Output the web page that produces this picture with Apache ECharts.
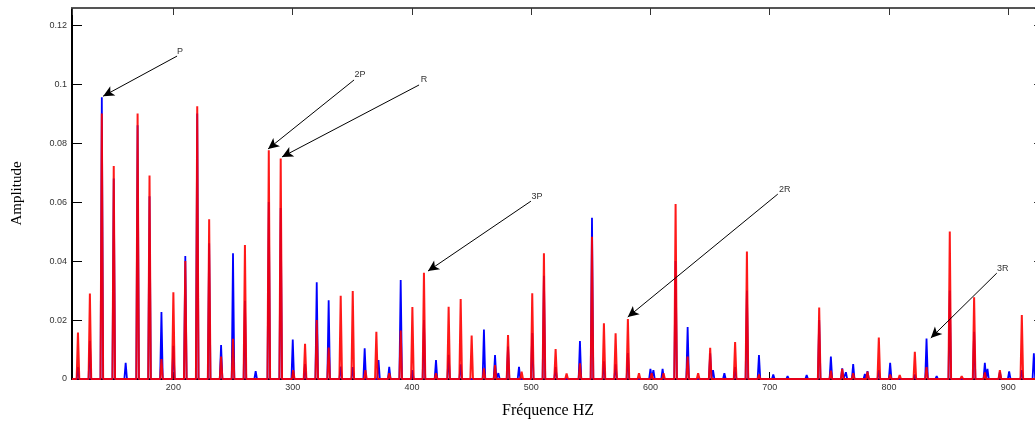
<!DOCTYPE html>
<html>
<head>
<meta charset="utf-8">
<script src="https://cdn.jsdelivr.net/npm/echarts@6/dist/echarts.min.js"></script>
<style>
html,body{margin:0;padding:0;background:#fff;}
#c{width:1035px;height:423px;}
</style>
</head>
<body>
<div id="c"></div>
<script>
// ---- data ----
const blueFreq = [120,130,140,150,160,170,180,190,200,210,220,230,240,250,260,269,280,290,300.1,310.4,320.2,330.2,340.3,350.4,360.4,372,381,390.6,400.4,410.1,420.2,430.8,440.9,460.4,469.7,472.5,480.6,489.8,500.9,510.7,520.5,540.9,551,561,570.8,581.1,600,602.5,610.2,621.1,631.2,650.1,652.5,662,671,680.9,691,703,715,731,741.5,751.3,760.8,763.9,770,779.8,782,791.5,801,821.7,831.5,840,851,871.4,880.4,882.6,893,900.8,911.4,921.5];
const blueAmp  = [0.004,0.013,0.0955,0.068,0.0055,0.086,0.062,0.0227,0.0113,0.0417,0.090,0.046,0.0115,0.0426,0.0265,0.0027,0.060,0.058,0.0134,0.0051,0.0328,0.0267,0.0042,0.004,0.0104,0.0064,0.0041,0.0336,0.003,0.020,0.0064,0.0082,0.005,0.0168,0.0081,0.002,0.011,0.0041,0.0156,0.035,0.004,0.0129,0.0547,0.006,0.005,0.0088,0.0034,0.003,0.0034,0.040,0.0176,0.0087,0.003,0.002,0.004,0.030,0.0081,0.0015,0.001,0.0013,0.020,0.0076,0.0036,0.0023,0.0051,0.0017,0.0027,0.003,0.0055,0.0015,0.0137,0.001,0.030,0.016,0.0055,0.0034,0.0024,0.0026,0.003,0.0087];

const redFreq = [120,130,140,150,170,180,190,200,210,220,230,240,250,260,280,290,300.5,310.4,320.2,330.2,340.3,350.4,361,370.2,381,390.6,400.4,410.1,420.2,430.8,440.9,450.1,460.4,469.7,480.6,492,500.9,510.7,520.5,529.7,540.9,551,561,570.8,581.1,590.4,601,611,621.1,631.2,640,650.1,671,680.9,691,741.5,751.3,760.8,770,782,791.5,801,809,821.7,831.5,851,861,871.4,880.4,893,911.4];
const redAmp  = [0.0158,0.029,0.090,0.0722,0.090,0.069,0.0068,0.0294,0.040,0.0925,0.0542,0.0076,0.0136,0.0454,0.0776,0.0748,0.003,0.0119,0.020,0.0107,0.0282,0.0298,0.003,0.016,0.002,0.0164,0.0244,0.036,0.002,0.0245,0.0271,0.0147,0.0036,0.0047,0.0149,0.0025,0.0291,0.0426,0.0102,0.0019,0.0053,0.0482,0.0189,0.0155,0.0203,0.002,0.002,0.002,0.0593,0.0076,0.002,0.0106,0.0125,0.0432,0.0015,0.0242,0.0028,0.0034,0.002,0.0025,0.0141,0.0015,0.0013,0.0092,0.004,0.050,0.001,0.0277,0.0022,0.003,0.0217];

const annLabels = ['P','2P','R','3P','2R','3R'];
const annText = [[205.6,0.1112],[356.4,0.1034],[410.2,0.1014],[504.9,0.0620],[712.7,0.0644],[895.5,0.0376]];
const annFrom = [[203.1,0.1095],[351.5,0.1014],[406.0,0.0997],[499.8,0.0603],[706.8,0.0627],[890.4,0.0359]];
const annTo   = [[141.1,0.0959],[279.4,0.0780],[291.1,0.0753],[413.5,0.0366],[581.0,0.0210],[835.1,0.0139]];

const xMin = 115, xMax = 930, yMin = 0, yMax = 0.1258;

// build spike line from peak lists
function spectrum(freqs, amps) {
  const hw = 1.1;
  const pts = [[xMin, 0]];
  for (let i = 0; i < freqs.length; i++) {
    pts.push([freqs[i] - hw, 0], [freqs[i], amps[i]], [freqs[i] + hw, 0]);
  }
  pts.push([xMax, 0]);
  return pts;
}

const chart = echarts.init(document.getElementById('c'), null, {renderer: 'canvas'});
const labelFont = {fontSize: 9, color: '#333', fontFamily: 'Liberation Sans, Arial, sans-serif'};

const option = {
  animation: false,
  backgroundColor: '#fff',
  grid: {left: 72, top: 8, right: -9, bottom: 44, containLabel: false, outerBoundsMode: 'none'},
  xAxis: [
    {type: 'value', min: xMin, max: xMax, splitNumber: 8, position: 'bottom',
     axisLine: {show: true, onZero: false, lineStyle: {color: '#000', width: 2}},
     axisTick: {show: true, inside: true, length: 7, lineStyle: {color: '#000'}},
     axisLabel: Object.assign({margin: 4, showMinLabel: false, showMaxLabel: false}, labelFont),
     splitLine: {show: false}},
    {type: 'value', min: xMin, max: xMax, splitNumber: 8, position: 'top',
     axisLine: {show: true, onZero: false, lineStyle: {color: '#555', width: 2}},
     axisTick: {show: true, inside: true, length: 7, lineStyle: {color: '#333'}},
     axisLabel: {show: false}, splitLine: {show: false}}
  ],
  yAxis: [
    {type: 'value', min: yMin, max: yMax, interval: 0.02, position: 'left',
     name: 'Amplitude', nameLocation: 'middle', nameGap: 47, nameRotate: 90,
     nameTextStyle: {fontFamily: 'Liberation Serif, Times New Roman, serif', fontSize: 15, color: '#000'},
     axisLine: {show: true, onZero: false, lineStyle: {color: '#000', width: 2}},
     axisTick: {show: true, inside: true, length: 10, lineStyle: {color: '#000'}},
     axisLabel: Object.assign({margin: 5, showMaxLabel: false}, labelFont),
     splitLine: {show: false}},
    {type: 'value', min: yMin, max: yMax, interval: 0.02, position: 'right',
     axisLine: {show: true, onZero: false, lineStyle: {color: '#555', width: 2}},
     axisTick: {show: true, inside: true, length: 10, lineStyle: {color: '#333'}},
     axisLabel: {show: false}, splitLine: {show: false}}
  ],
  graphic: [
    {type: 'text', left: 548 - 46, top: 403,
     style: {text: 'Fréquence HZ', font: '16px "Liberation Serif", "Times New Roman", serif', fill: '#000'}}
  ],
  series: [
    {type: 'line', name: 'blue', data: spectrum(blueFreq, blueAmp), showSymbol: false, symbol: 'none',
     lineStyle: {color: '#0000ff', width: 1.8}, itemStyle: {color: '#0000ff'}, z: 2, silent: true},
    {type: 'line', name: 'red', data: spectrum(redFreq, redAmp), showSymbol: false, symbol: 'none',
     lineStyle: {color: '#ff0000', width: 2, opacity: 0.9}, itemStyle: {color: '#ff0000'}, z: 3, silent: true,
     markLine: {
       silent: true, animation: false,
       symbol: ['none', 'arrow'], symbolSize: [8, 11],
       lineStyle: {color: '#000', width: 1, type: 'solid'},
       label: {show: false},
       emphasis: {disabled: true},
       data: annFrom.map((p, i) => [{coord: p}, {coord: annTo[i]}])
     },
     markPoint: {
       silent: true, animation: false,
       symbol: 'circle', symbolSize: 1,
       itemStyle: {color: 'rgba(0,0,0,0)'},
       label: {show: true, position: 'inside', fontSize: 9, color: '#333', fontFamily: 'Liberation Sans, Arial, sans-serif',
               formatter: (p) => p.name},
       data: annText.map((p, i) => ({name: annLabels[i], coord: p}))
     }}
  ]
};
chart.setOption(option);
</script>
</body>
</html>
